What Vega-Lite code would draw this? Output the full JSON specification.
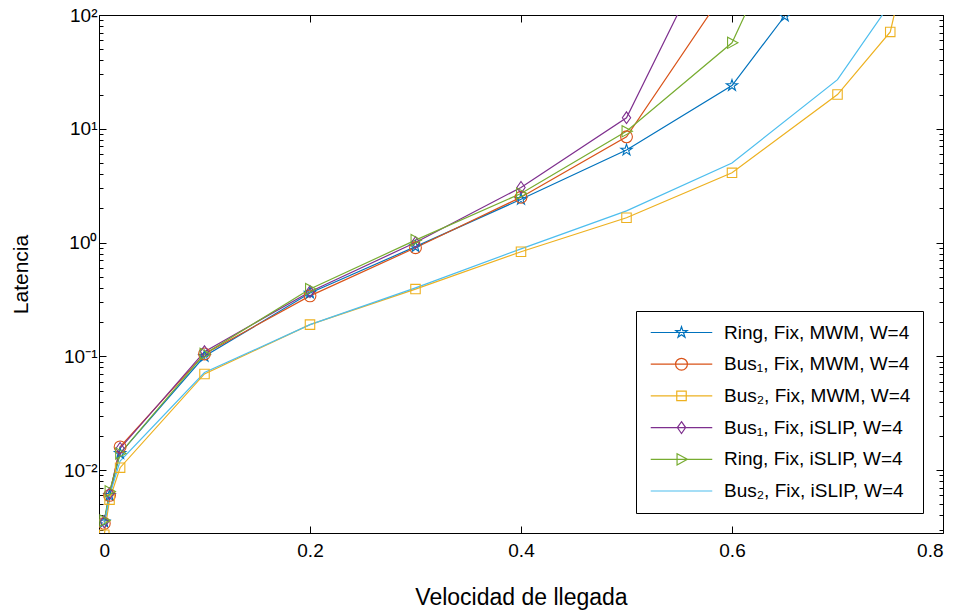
{
  "$schema": "https://vega.github.io/schema/vega-lite/v6.json",
  "width": 844,
  "height": 518,
  "autosize": "none",
  "padding": {"left": 99, "top": 15, "right": 18, "bottom": 82},
  "background": "white",
  "config": {
    "view": {"stroke": null},
    "font": "Liberation Sans",
    "axis": {
      "domainColor": "black", "tickColor": "black", "labelColor": "black", "titleColor": "black",
      "grid": false, "labelFont": "Liberation Sans", "titleFont": "Liberation Sans",
      "titleFontWeight": "normal", "domainWidth": 1, "tickWidth": 1
    }
  },
  "datasets": {
    "d": [
      {"s": "Ring, Fix, MWM, W=4", "x": 0.005, "y": 0.0035},
      {"s": "Ring, Fix, MWM, W=4", "x": 0.01, "y": 0.006},
      {"s": "Ring, Fix, MWM, W=4", "x": 0.02, "y": 0.014},
      {"s": "Ring, Fix, MWM, W=4", "x": 0.1, "y": 0.1},
      {"s": "Ring, Fix, MWM, W=4", "x": 0.2, "y": 0.36},
      {"s": "Ring, Fix, MWM, W=4", "x": 0.3, "y": 0.92},
      {"s": "Ring, Fix, MWM, W=4", "x": 0.4, "y": 2.4},
      {"s": "Ring, Fix, MWM, W=4", "x": 0.5, "y": 6.5},
      {"s": "Ring, Fix, MWM, W=4", "x": 0.6, "y": 24},
      {"s": "Ring, Fix, MWM, W=4", "x": 0.65, "y": 98},
      {"s": "Bus₁, Fix, MWM, W=4", "x": 0.005, "y": 0.0034},
      {"s": "Bus₁, Fix, MWM, W=4", "x": 0.01, "y": 0.006},
      {"s": "Bus₁, Fix, MWM, W=4", "x": 0.02, "y": 0.016},
      {"s": "Bus₁, Fix, MWM, W=4", "x": 0.1, "y": 0.105},
      {"s": "Bus₁, Fix, MWM, W=4", "x": 0.2, "y": 0.34},
      {"s": "Bus₁, Fix, MWM, W=4", "x": 0.3, "y": 0.9},
      {"s": "Bus₁, Fix, MWM, W=4", "x": 0.4, "y": 2.5},
      {"s": "Bus₁, Fix, MWM, W=4", "x": 0.5, "y": 8.5},
      {"s": "Bus₁, Fix, MWM, W=4", "x": 0.6, "y": 200},
      {"s": "Bus₂, Fix, MWM, W=4", "x": 0.005, "y": 0.0027},
      {"s": "Bus₂, Fix, MWM, W=4", "x": 0.01, "y": 0.0055},
      {"s": "Bus₂, Fix, MWM, W=4", "x": 0.02, "y": 0.0105},
      {"s": "Bus₂, Fix, MWM, W=4", "x": 0.1, "y": 0.07},
      {"s": "Bus₂, Fix, MWM, W=4", "x": 0.2, "y": 0.19},
      {"s": "Bus₂, Fix, MWM, W=4", "x": 0.3, "y": 0.39},
      {"s": "Bus₂, Fix, MWM, W=4", "x": 0.4, "y": 0.83},
      {"s": "Bus₂, Fix, MWM, W=4", "x": 0.5, "y": 1.65},
      {"s": "Bus₂, Fix, MWM, W=4", "x": 0.6, "y": 4.1},
      {"s": "Bus₂, Fix, MWM, W=4", "x": 0.7, "y": 20},
      {"s": "Bus₂, Fix, MWM, W=4", "x": 0.75, "y": 71},
      {"s": "Bus₂, Fix, MWM, W=4", "x": 0.8, "y": 7000},
      {"s": "Bus₁, Fix, iSLIP, W=4", "x": 0.005, "y": 0.0035},
      {"s": "Bus₁, Fix, iSLIP, W=4", "x": 0.01, "y": 0.0062},
      {"s": "Bus₁, Fix, iSLIP, W=4", "x": 0.02, "y": 0.0155},
      {"s": "Bus₁, Fix, iSLIP, W=4", "x": 0.1, "y": 0.11},
      {"s": "Bus₁, Fix, iSLIP, W=4", "x": 0.2, "y": 0.37},
      {"s": "Bus₁, Fix, iSLIP, W=4", "x": 0.3, "y": 1.0},
      {"s": "Bus₁, Fix, iSLIP, W=4", "x": 0.4, "y": 3.05},
      {"s": "Bus₁, Fix, iSLIP, W=4", "x": 0.5, "y": 12.5},
      {"s": "Bus₁, Fix, iSLIP, W=4", "x": 0.6, "y": 940},
      {"s": "Ring, Fix, iSLIP, W=4", "x": 0.005, "y": 0.0036},
      {"s": "Ring, Fix, iSLIP, W=4", "x": 0.01, "y": 0.0065},
      {"s": "Ring, Fix, iSLIP, W=4", "x": 0.02, "y": 0.014},
      {"s": "Ring, Fix, iSLIP, W=4", "x": 0.1, "y": 0.105},
      {"s": "Ring, Fix, iSLIP, W=4", "x": 0.2, "y": 0.39},
      {"s": "Ring, Fix, iSLIP, W=4", "x": 0.3, "y": 1.05},
      {"s": "Ring, Fix, iSLIP, W=4", "x": 0.4, "y": 2.7},
      {"s": "Ring, Fix, iSLIP, W=4", "x": 0.5, "y": 9.5},
      {"s": "Ring, Fix, iSLIP, W=4", "x": 0.6, "y": 57},
      {"s": "Ring, Fix, iSLIP, W=4", "x": 0.65, "y": 570},
      {"s": "Bus₂, Fix, iSLIP, W=4", "x": 0.005, "y": 0.0033},
      {"s": "Bus₂, Fix, iSLIP, W=4", "x": 0.01, "y": 0.006},
      {"s": "Bus₂, Fix, iSLIP, W=4", "x": 0.02, "y": 0.012},
      {"s": "Bus₂, Fix, iSLIP, W=4", "x": 0.1, "y": 0.072},
      {"s": "Bus₂, Fix, iSLIP, W=4", "x": 0.2, "y": 0.19},
      {"s": "Bus₂, Fix, iSLIP, W=4", "x": 0.3, "y": 0.4},
      {"s": "Bus₂, Fix, iSLIP, W=4", "x": 0.4, "y": 0.88},
      {"s": "Bus₂, Fix, iSLIP, W=4", "x": 0.5, "y": 1.9},
      {"s": "Bus₂, Fix, iSLIP, W=4", "x": 0.6, "y": 5.0},
      {"s": "Bus₂, Fix, iSLIP, W=4", "x": 0.7, "y": 27},
      {"s": "Bus₂, Fix, iSLIP, W=4", "x": 0.75, "y": 126}
    ]
  },
  "data": {"name": "d"},
  "layer": [
    {
      "mark": {"type": "line", "clip": true, "strokeWidth": 1.2},
      "encoding": {
        "x": {
          "field": "x", "type": "quantitative",
          "scale": {"domain": [0, 0.8], "nice": false, "zero": false},
          "axis": {"orient": "bottom", "values": [0, 0.2, 0.4, 0.6, 0.8], "format": "~g", "tickSize": -7,
                   "labelFontSize": 19, "labelPadding": 15, "title": "Velocidad de llegada", "titleFontSize": 23, "titlePadding": 26}
        },
        "y": {
          "field": "y", "type": "quantitative",
          "scale": {"type": "log", "domain": [0.0028, 100], "nice": false},
          "axis": {"orient": "left", "values": [0.01, 0.1, 1, 10, 100], "tickSize": -7, "labelFontSize": 19, "labelPadding": 9,
                   "labelExpr": "datum.value == 100 ? '10²' : datum.value == 10 ? '10¹' : datum.value == 1 ? '10⁰' : datum.value == 0.1 ? '10⁻¹' : '10⁻²'",
                   "title": "Latencia", "titleFontSize": 21, "titlePadding": 32}
        },
        "color": {
          "field": "s", "type": "nominal",
          "scale": {
            "domain": ["Ring, Fix, MWM, W=4", "Bus₁, Fix, MWM, W=4", "Bus₂, Fix, MWM, W=4", "Bus₁, Fix, iSLIP, W=4", "Ring, Fix, iSLIP, W=4", "Bus₂, Fix, iSLIP, W=4"],
            "range": ["#0072BD", "#D95319", "#EDB120", "#7E2F8E", "#77AC30", "#4DBEEE"]
          },
          "legend": {
            "orient": "bottom-right", "offset": 20, "title": null,
            "strokeColor": "black", "fillColor": "white", "padding": 12,
            "labelFont": "Liberation Sans", "labelFontSize": 19, "labelColor": "black", "labelLimit": 0,
            "rowPadding": 11.7, "symbolSize": 140, "symbolOffset": 24, "labelOffset": 33, "symbolStrokeWidth": 1.2,
            "encode": {
              "symbols": {
                "update": {
                  "shape": {"signal": "datum.value === 'Ring, Fix, MWM, W=4' ? 'M-5.2,0H5.2M0,-1L0.2245,-0.309L0.9511,-0.309L0.3633,0.118L0.5878,0.809L0,0.382L-0.5878,0.809L-0.3633,0.118L-0.9511,-0.309L-0.2245,-0.309Z' : datum.value === 'Bus₁, Fix, MWM, W=4' ? 'M-5.2,0H5.2M1,0A1,1,0,1,1,-1,0A1,1,0,1,1,1,0Z' : datum.value === 'Bus₂, Fix, MWM, W=4' ? 'M-5.2,0H5.2M-0.8,-0.8H0.8V0.8H-0.8Z' : datum.value === 'Bus₁, Fix, iSLIP, W=4' ? 'M-5.2,0H5.2M0,-1L0.7,0L0,1L-0.7,0Z' : datum.value === 'Ring, Fix, iSLIP, W=4' ? 'M-5.2,0H5.2M1,0L-0.75,-0.95L-0.75,0.95Z' : 'M-5.2,0H5.2'"},
                  "fill": {"value": "transparent"},
                  "stroke": {"scale": "color", "field": "value"},
                  "strokeWidth": {"value": 1.2}
                }
              }
            }
          }
        }
      }
    },
    {
      "transform": [{"filter": "datum.s !== 'Bus₂, Fix, iSLIP, W=4'"}],
      "mark": {"type": "point", "clip": true, "filled": false, "strokeWidth": 1.1, "size": 140, "opacity": 1},
      "encoding": {
        "x": {
          "field": "x", "type": "quantitative",
          "scale": {"domain": [0, 0.8], "nice": false, "zero": false},
          "axis": {"orient": "top", "values": [0, 0.2, 0.4, 0.6, 0.8], "tickSize": -7, "labels": false, "title": null}
        },
        "y": {
          "field": "y", "type": "quantitative",
          "scale": {"type": "log", "domain": [0.0028, 100], "nice": false},
          "axis": {"orient": "right", "values": [0.01, 0.1, 1, 10, 100], "tickSize": -7, "labels": false, "title": null}
        },
        "color": {"field": "s", "type": "nominal"},
        "shape": {
          "field": "s", "type": "nominal",
          "scale": {
            "domain": ["Ring, Fix, MWM, W=4", "Bus₁, Fix, MWM, W=4", "Bus₂, Fix, MWM, W=4", "Bus₁, Fix, iSLIP, W=4", "Ring, Fix, iSLIP, W=4"],
            "range": [
              "M0,-1L0.2245,-0.309L0.9511,-0.309L0.3633,0.118L0.5878,0.809L0,0.382L-0.5878,0.809L-0.3633,0.118L-0.9511,-0.309L-0.2245,-0.309Z",
              "M1,0A1,1,0,1,1,-1,0A1,1,0,1,1,1,0Z",
              "M-0.8,-0.8H0.8V0.8H-0.8Z",
              "M0,-1L0.7,0L0,1L-0.7,0Z",
              "M1,0L-0.75,-0.95L-0.75,0.95Z"
            ]
          },
          "legend": null
        }
      }
    },
    {
      "mark": {"type": "point", "clip": true, "opacity": 0},
      "encoding": {
        "x": {"field": "x", "type": "quantitative", "scale": {"domain": [0, 0.8], "nice": false, "zero": false}, "axis": null},
        "y": {
          "field": "y", "type": "quantitative",
          "scale": {"type": "log", "domain": [0.0028, 100], "nice": false},
          "axis": {"orient": "left", "domain": false, "labels": false, "title": null, "tickSize": -4,
                   "values": [0.003, 0.004, 0.005, 0.006, 0.007, 0.008, 0.009, 0.02, 0.03, 0.04, 0.05, 0.06, 0.07, 0.08, 0.09, 0.2, 0.3, 0.4, 0.5, 0.6, 0.7, 0.8, 0.9, 2, 3, 4, 5, 6, 7, 8, 9, 20, 30, 40, 50, 60, 70, 80, 90]}
        }
      }
    },
    {
      "mark": {"type": "point", "clip": true, "opacity": 0},
      "encoding": {
        "x": {"field": "x", "type": "quantitative", "scale": {"domain": [0, 0.8], "nice": false, "zero": false}, "axis": null},
        "y": {
          "field": "y", "type": "quantitative",
          "scale": {"type": "log", "domain": [0.0028, 100], "nice": false},
          "axis": {"orient": "right", "domain": false, "labels": false, "title": null, "tickSize": -4,
                   "values": [0.003, 0.004, 0.005, 0.006, 0.007, 0.008, 0.009, 0.02, 0.03, 0.04, 0.05, 0.06, 0.07, 0.08, 0.09, 0.2, 0.3, 0.4, 0.5, 0.6, 0.7, 0.8, 0.9, 2, 3, 4, 5, 6, 7, 8, 9, 20, 30, 40, 50, 60, 70, 80, 90]}
        }
      }
    }
  ],
  "resolve": {"axis": {"x": "independent", "y": "independent"}}
}
